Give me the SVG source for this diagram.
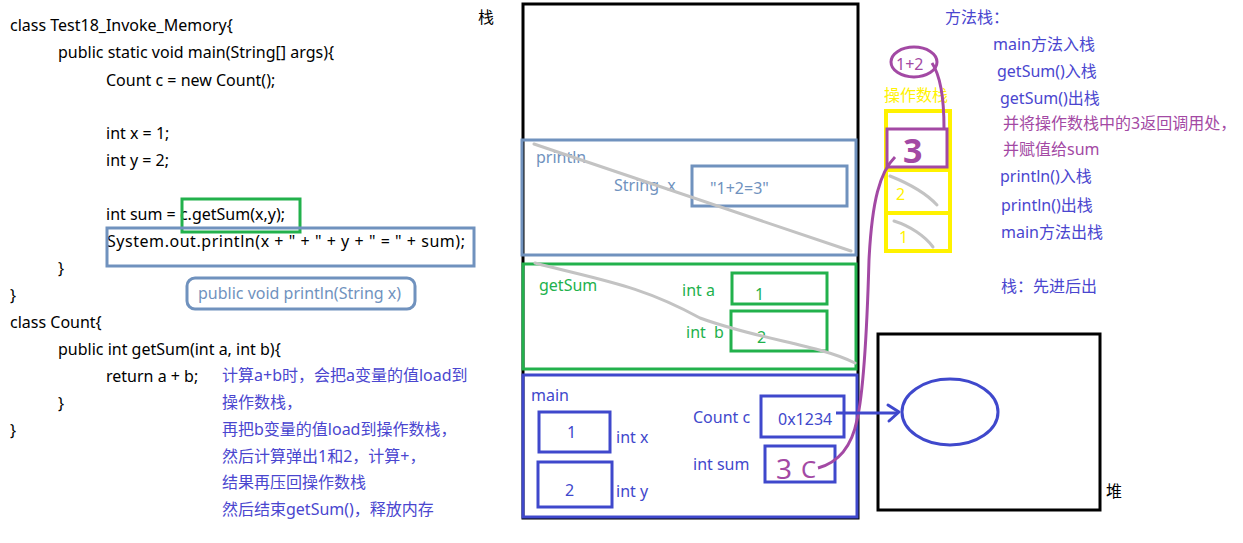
<svg xmlns="http://www.w3.org/2000/svg" width="1243" height="543" viewBox="0 0 1243 543">
<style>
text{font-family:"Noto Sans","Noto Sans CJK SC",sans-serif;font-size:16px}
.code{fill:#000}
.note{fill:#4a46cf}
.pnote{fill:#a349a4}
.gb{fill:#7092be}
.gr{fill:#22b14c}
.bl{fill:#3f48cc}
.yl{fill:#fff200}
.rgb{fill:none;stroke:#7092be;stroke-width:3}
.rgr{fill:none;stroke:#22b14c;stroke-width:3}
.rbl{fill:none;stroke:#3f48cc;stroke-width:3}
.rbk{fill:none;stroke:#000;stroke-width:3}
.ryl{fill:none;stroke:#fff200;stroke-width:4}
.rpu{fill:none;stroke:#a349a4;stroke-width:3}
.gray{fill:none;stroke:#c3c3c3;stroke-width:3;stroke-linecap:round}
</style>
<rect width="1243" height="543" fill="#fff"/>

<g id="code">
<text class="code" x="10" y="31">class Test18_Invoke_Memory{</text>
<text class="code" x="58" y="58">public static void main(String[] args){</text>
<text class="code" x="106" y="86">Count c = new Count();</text>
<text class="code" x="106" y="139">int x = 1;</text>
<text class="code" x="106" y="166">int y = 2;</text>
<text class="code" x="106" y="220">int sum = c.getSum(x,y);</text>
<text class="code" x="107" y="247" textLength="358" lengthAdjust="spacing">System.out.println(x + " + " + y + " = " + sum);</text>
<text class="code" x="58" y="274">}</text>
<text class="code" x="10" y="301">}</text>
<text class="code" x="10" y="328">class Count{</text>
<text class="code" x="58" y="355">public int getSum(int a, int b){</text>
<text class="code" x="106" y="382">return a + b;</text>
<text class="code" x="58" y="409">}</text>
<text class="code" x="10" y="436">}</text>
<rect class="rgr" x="182" y="199" width="118" height="33"/>
<rect class="rgb" x="107" y="228" width="367" height="38"/>
</g>

<g id="println-sig">
<rect class="rgb" x="187" y="278" width="228" height="31" rx="8"/>
<text class="gb" x="198" y="299">public void println(String x)</text>
</g>

<g id="notes">
<text class="note" x="222" y="381">计算a+b时，会把a变量的值load到</text>
<text class="note" x="222" y="408">操作数栈，</text>
<text class="note" x="222" y="435">再把b变量的值load到操作数栈，</text>
<text class="note" x="222" y="462">然后计算弹出1和2，计算+，</text>
<text class="note" x="222" y="488">结果再压回操作数栈</text>
<text class="note" x="222" y="515">然后结束getSum()，释放内存</text>
</g>

<g id="stack">
<text class="code" x="478" y="23">栈</text>
<rect class="rbk" x="523" y="4" width="335" height="514"/>
</g>

<g id="frame-println">
<rect class="rgb" x="522" y="140" width="334" height="115"/>
<text class="gb" x="536" y="163">println</text>
<text class="gb" x="614" y="191" xml:space="preserve">String  x</text>
<rect class="rgb" x="692" y="166" width="155" height="40"/>
<text class="gb" x="710" y="194">"1+2=3"</text>
<path class="gray" d="M534 144 L851 251"/>
</g>

<g id="frame-getSum">
<rect class="rgr" x="523" y="264" width="333" height="105"/>
<text class="gr" x="539" y="291">getSum</text>
<text class="gr" x="682" y="296">int a</text>
<rect class="rgr" x="732" y="273" width="95" height="31"/>
<text class="gr" x="755" y="300">1</text>
<text class="gr" x="686" y="338" xml:space="preserve">int  b</text>
<rect class="rgr" x="731" y="311" width="96" height="40"/>
<text class="gr" x="757" y="343">2</text>
<path class="gray" d="M535 263 C600 280 640 285 700 318 C760 340 820 345 855 363"/>
</g>

<g id="frame-main">
<rect class="rbl" x="523" y="375" width="334" height="142"/>
<text class="bl" x="531" y="401">main</text>
<rect class="rbl" x="539" y="412" width="71" height="40"/>
<text class="bl" x="567" y="438">1</text>
<text class="bl" x="616" y="443">int x</text>
<rect class="rbl" x="538" y="462" width="74" height="45"/>
<text class="bl" x="565" y="496">2</text>
<text class="bl" x="616" y="497">int y</text>
<text class="bl" x="693" y="423">Count c</text>
<rect class="rbl" x="761" y="396" width="83" height="41"/>
<text class="bl" x="778" y="425">0x1234</text>
<text class="bl" x="693" y="470">int sum</text>
<rect class="rbl" x="765" y="446" width="70" height="36"/>
<text class="pnote" x="776" y="479" style="font-size:28px">3</text>
<text class="pnote" x="801" y="478" style="font-size:24px">C</text>
</g>

<g id="heap">
<rect class="rbk" x="878" y="334" width="222" height="176"/>
<ellipse cx="950" cy="412" rx="48" ry="33" fill="none" stroke="#3f48cc" stroke-width="3"/>
<text class="code" x="1106" y="497">堆</text>
</g>

<g id="operand-stack">
<text class="yl" x="884" y="101">操作数栈</text>
<rect class="ryl" x="886" y="111" width="64" height="140"/>
<path d="M886 170 H950 M886 213 H950" stroke="#fff200" stroke-width="4"/>
<rect class="rpu" x="887" y="129" width="60" height="38"/>
<text class="pnote" x="903" y="163" style="font-size:34px;font-weight:bold">3</text>
<text class="yl" x="896" y="200">2</text>
<text class="yl" x="899" y="243">1</text>
<path class="gray" d="M890 176 C905 182 925 192 937 205"/>
<path class="gray" d="M894 221 C910 226 925 236 933 247"/>
<ellipse cx="914" cy="62" rx="23" ry="15" fill="none" stroke="#a349a4" stroke-width="3"/>
<text class="pnote" x="896" y="70">1+2</text>
</g>

<g id="method-stack">
<text class="note" x="945" y="23">方法栈：</text>
<text class="note" x="993" y="50">main方法入栈</text>
<text class="note" x="997" y="77">getSum()入栈</text>
<text class="note" x="1000" y="104">getSum()出栈</text>
<text class="pnote" x="1003" y="129">并将操作数栈中的3返回调用处，</text>
<text class="pnote" x="1003" y="155">并赋值给sum</text>
<text class="note" x="1000" y="182">println()入栈</text>
<text class="note" x="1001" y="211">println()出栈</text>
<text class="note" x="1001" y="238">main方法出栈</text>
<text class="note" x="1001" y="292">栈：先进后出</text>
</g>

<g id="connectors">
<path class="rpu" d="M932 63 C940 75 944 100 944 128"/>
<path class="rpu" d="M895 157 C880 172 872 200 869 260 C867 330 864 390 857 420 C852 445 840 462 818 468"/>
<path d="M836 413 H898" stroke="#3f48cc" stroke-width="3" fill="none"/>
<path d="M888 405 L899 412 L889 421" stroke="#3f48cc" stroke-width="3" fill="none" stroke-linecap="round" stroke-linejoin="round"/>
</g>
</svg>
